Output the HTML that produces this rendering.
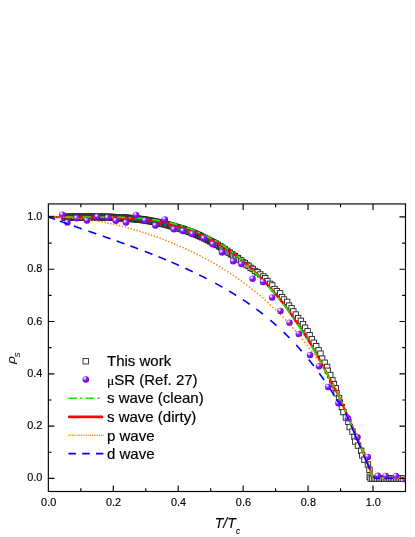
<!DOCTYPE html>
<html><head><meta charset="utf-8"><title>Superfluid density</title>
<style>html,body{margin:0;padding:0;background:#fff}body{width:415px;height:537px;overflow:hidden;font-family:"Liberation Sans",sans-serif}</style></head>
<body>
<svg width="415" height="537" viewBox="0 0 415 537" style="display:block;will-change:transform">
<defs><radialGradient id="g" cx="0.34" cy="0.30" r="0.75"><stop offset="0" stop-color="#fff"/><stop offset="0.16" stop-color="#d9b8ff"/><stop offset="0.42" stop-color="#8a1cff"/><stop offset="1" stop-color="#6a00e0"/></radialGradient>
<clipPath id="c"><rect x="48.35" y="203.95" width="357.15" height="287.55"/></clipPath></defs>
<rect width="415" height="537" fill="#fff"/>
<g fill="#fff" stroke="#222" stroke-width="0.9" clip-path="url(#c)">
<rect x="61.8" y="214.87" width="5.4" height="5.4"/>
<rect x="62.5" y="214.07" width="5.4" height="5.4"/>
<rect x="63.2" y="214.87" width="5.4" height="5.4"/>
<rect x="63.9" y="214.07" width="5.4" height="5.4"/>
<rect x="64.6" y="214.86" width="5.4" height="5.4"/>
<rect x="65.3" y="214.06" width="5.4" height="5.4"/>
<rect x="66" y="214.86" width="5.4" height="5.4"/>
<rect x="66.7" y="214.06" width="5.4" height="5.4"/>
<rect x="67.4" y="214.85" width="5.4" height="5.4"/>
<rect x="68.1" y="214.05" width="5.4" height="5.4"/>
<rect x="68.8" y="214.85" width="5.4" height="5.4"/>
<rect x="69.5" y="214.05" width="5.4" height="5.4"/>
<rect x="70.2" y="214.84" width="5.4" height="5.4"/>
<rect x="70.9" y="214.04" width="5.4" height="5.4"/>
<rect x="71.6" y="214.84" width="5.4" height="5.4"/>
<rect x="72.3" y="214.04" width="5.4" height="5.4"/>
<rect x="73" y="214.83" width="5.4" height="5.4"/>
<rect x="73.7" y="214.03" width="5.4" height="5.4"/>
<rect x="74.4" y="214.83" width="5.4" height="5.4"/>
<rect x="75.1" y="214.03" width="5.4" height="5.4"/>
<rect x="75.8" y="214.82" width="5.4" height="5.4"/>
<rect x="76.5" y="214.02" width="5.4" height="5.4"/>
<rect x="77.2" y="214.82" width="5.4" height="5.4"/>
<rect x="77.9" y="214.02" width="5.4" height="5.4"/>
<rect x="78.6" y="214.82" width="5.4" height="5.4"/>
<rect x="79.3" y="214.01" width="5.4" height="5.4"/>
<rect x="80" y="214.81" width="5.4" height="5.4"/>
<rect x="80.7" y="214.01" width="5.4" height="5.4"/>
<rect x="81.4" y="214.81" width="5.4" height="5.4"/>
<rect x="82.1" y="214.01" width="5.4" height="5.4"/>
<rect x="82.8" y="214.81" width="5.4" height="5.4"/>
<rect x="83.5" y="214.01" width="5.4" height="5.4"/>
<rect x="84.2" y="214.81" width="5.4" height="5.4"/>
<rect x="84.9" y="214.01" width="5.4" height="5.4"/>
<rect x="85.6" y="214.81" width="5.4" height="5.4"/>
<rect x="86.3" y="214.01" width="5.4" height="5.4"/>
<rect x="87" y="214.81" width="5.4" height="5.4"/>
<rect x="87.7" y="214.01" width="5.4" height="5.4"/>
<rect x="88.4" y="214.81" width="5.4" height="5.4"/>
<rect x="89.1" y="214.01" width="5.4" height="5.4"/>
<rect x="89.8" y="214.81" width="5.4" height="5.4"/>
<rect x="90.5" y="214.02" width="5.4" height="5.4"/>
<rect x="91.2" y="214.82" width="5.4" height="5.4"/>
<rect x="91.9" y="214.02" width="5.4" height="5.4"/>
<rect x="92.6" y="214.83" width="5.4" height="5.4"/>
<rect x="93.3" y="214.03" width="5.4" height="5.4"/>
<rect x="94" y="214.83" width="5.4" height="5.4"/>
<rect x="94.7" y="214.04" width="5.4" height="5.4"/>
<rect x="95.4" y="214.84" width="5.4" height="5.4"/>
<rect x="96.1" y="214.05" width="5.4" height="5.4"/>
<rect x="96.8" y="214.86" width="5.4" height="5.4"/>
<rect x="97.5" y="214.06" width="5.4" height="5.4"/>
<rect x="98.2" y="214.87" width="5.4" height="5.4"/>
<rect x="98.9" y="214.08" width="5.4" height="5.4"/>
<rect x="99.6" y="214.89" width="5.4" height="5.4"/>
<rect x="100.3" y="214.1" width="5.4" height="5.4"/>
<rect x="101" y="214.91" width="5.4" height="5.4"/>
<rect x="101.7" y="214.12" width="5.4" height="5.4"/>
<rect x="102.4" y="214.93" width="5.4" height="5.4"/>
<rect x="103.1" y="214.14" width="5.4" height="5.4"/>
<rect x="103.8" y="214.95" width="5.4" height="5.4"/>
<rect x="104.5" y="214.17" width="5.4" height="5.4"/>
<rect x="105.2" y="214.98" width="5.4" height="5.4"/>
<rect x="105.9" y="214.2" width="5.4" height="5.4"/>
<rect x="106.6" y="215.02" width="5.4" height="5.4"/>
<rect x="107.3" y="214.23" width="5.4" height="5.4"/>
<rect x="108" y="215.06" width="5.4" height="5.4"/>
<rect x="108.7" y="214.28" width="5.4" height="5.4"/>
<rect x="109.4" y="215.11" width="5.4" height="5.4"/>
<rect x="110.1" y="214.33" width="5.4" height="5.4"/>
<rect x="110.8" y="215.16" width="5.4" height="5.4"/>
<rect x="111.5" y="214.39" width="5.4" height="5.4"/>
<rect x="112.2" y="215.22" width="5.4" height="5.4"/>
<rect x="112.9" y="214.45" width="5.4" height="5.4"/>
<rect x="113.6" y="215.28" width="5.4" height="5.4"/>
<rect x="114.29" y="214.51" width="5.4" height="5.4"/>
<rect x="114.99" y="215.35" width="5.4" height="5.4"/>
<rect x="115.69" y="214.58" width="5.4" height="5.4"/>
<rect x="116.39" y="215.42" width="5.4" height="5.4"/>
<rect x="117.09" y="214.66" width="5.4" height="5.4"/>
<rect x="117.79" y="215.49" width="5.4" height="5.4"/>
<rect x="118.49" y="214.73" width="5.4" height="5.4"/>
<rect x="119.19" y="215.57" width="5.4" height="5.4"/>
<rect x="119.89" y="214.82" width="5.4" height="5.4"/>
<rect x="120.59" y="215.66" width="5.4" height="5.4"/>
<rect x="121.29" y="214.9" width="5.4" height="5.4"/>
<rect x="121.99" y="215.75" width="5.4" height="5.4"/>
<rect x="122.68" y="214.99" width="5.4" height="5.4"/>
<rect x="123.38" y="215.84" width="5.4" height="5.4"/>
<rect x="124.08" y="215.09" width="5.4" height="5.4"/>
<rect x="124.78" y="215.94" width="5.4" height="5.4"/>
<rect x="125.48" y="215.19" width="5.4" height="5.4"/>
<rect x="126.18" y="216.05" width="5.4" height="5.4"/>
<rect x="126.88" y="215.3" width="5.4" height="5.4"/>
<rect x="127.58" y="216.15" width="5.4" height="5.4"/>
<rect x="128.27" y="215.41" width="5.4" height="5.4"/>
<rect x="128.97" y="216.27" width="5.4" height="5.4"/>
<rect x="129.67" y="215.53" width="5.4" height="5.4"/>
<rect x="130.37" y="216.39" width="5.4" height="5.4"/>
<rect x="131.07" y="215.65" width="5.4" height="5.4"/>
<rect x="131.76" y="216.52" width="5.4" height="5.4"/>
<rect x="132.46" y="215.78" width="5.4" height="5.4"/>
<rect x="133.16" y="216.65" width="5.4" height="5.4"/>
<rect x="133.86" y="215.92" width="5.4" height="5.4"/>
<rect x="134.55" y="216.79" width="5.4" height="5.4"/>
<rect x="135.25" y="216.06" width="5.4" height="5.4"/>
<rect x="135.95" y="216.93" width="5.4" height="5.4"/>
<rect x="136.65" y="216.2" width="5.4" height="5.4"/>
<rect x="137.34" y="217.08" width="5.4" height="5.4"/>
<rect x="138.04" y="216.36" width="5.4" height="5.4"/>
<rect x="138.74" y="217.24" width="5.4" height="5.4"/>
<rect x="139.45" y="216.53" width="5.4" height="5.4"/>
<rect x="140.15" y="217.42" width="5.4" height="5.4"/>
<rect x="140.87" y="216.72" width="5.4" height="5.4"/>
<rect x="141.58" y="217.63" width="5.4" height="5.4"/>
<rect x="142.3" y="216.93" width="5.4" height="5.4"/>
<rect x="143.03" y="217.84" width="5.4" height="5.4"/>
<rect x="143.76" y="217.16" width="5.4" height="5.4"/>
<rect x="144.49" y="218.08" width="5.4" height="5.4"/>
<rect x="145.23" y="217.41" width="5.4" height="5.4"/>
<rect x="145.97" y="218.34" width="5.4" height="5.4"/>
<rect x="146.71" y="217.67" width="5.4" height="5.4"/>
<rect x="147.46" y="218.61" width="5.4" height="5.4"/>
<rect x="148.21" y="217.95" width="5.4" height="5.4"/>
<rect x="148.97" y="218.89" width="5.4" height="5.4"/>
<rect x="149.73" y="218.24" width="5.4" height="5.4"/>
<rect x="150.5" y="219.19" width="5.4" height="5.4"/>
<rect x="151.27" y="218.55" width="5.4" height="5.4"/>
<rect x="152.04" y="219.51" width="5.4" height="5.4"/>
<rect x="152.82" y="218.87" width="5.4" height="5.4"/>
<rect x="153.6" y="219.83" width="5.4" height="5.4"/>
<rect x="154.38" y="219.2" width="5.4" height="5.4"/>
<rect x="155.17" y="220.17" width="5.4" height="5.4"/>
<rect x="155.96" y="219.54" width="5.4" height="5.4"/>
<rect x="156.76" y="220.51" width="5.4" height="5.4"/>
<rect x="157.56" y="219.89" width="5.4" height="5.4"/>
<rect x="158.37" y="220.87" width="5.4" height="5.4"/>
<rect x="159.18" y="220.25" width="5.4" height="5.4"/>
<rect x="159.99" y="221.24" width="5.4" height="5.4"/>
<rect x="160.81" y="220.63" width="5.4" height="5.4"/>
<rect x="161.63" y="221.64" width="5.4" height="5.4"/>
<rect x="162.46" y="221.04" width="5.4" height="5.4"/>
<rect x="163.29" y="222.06" width="5.4" height="5.4"/>
<rect x="164.13" y="221.47" width="5.4" height="5.4"/>
<rect x="164.96" y="222.5" width="5.4" height="5.4"/>
<rect x="165.81" y="221.92" width="5.4" height="5.4"/>
<rect x="166.65" y="222.96" width="5.4" height="5.4"/>
<rect x="167.5" y="222.39" width="5.4" height="5.4"/>
<rect x="168.36" y="223.43" width="5.4" height="5.4"/>
<rect x="169.21" y="222.88" width="5.4" height="5.4"/>
<rect x="170.07" y="223.93" width="5.4" height="5.4"/>
<rect x="170.94" y="223.38" width="5.4" height="5.4"/>
<rect x="171.81" y="224.44" width="5.4" height="5.4"/>
<rect x="172.68" y="223.89" width="5.4" height="5.4"/>
<rect x="173.55" y="224.95" width="5.4" height="5.4"/>
<rect x="174.43" y="224.42" width="5.4" height="5.4"/>
<rect x="175.32" y="225.48" width="5.4" height="5.4"/>
<rect x="176.2" y="224.95" width="5.4" height="5.4"/>
<rect x="177.09" y="226.02" width="5.4" height="5.4"/>
<rect x="177.98" y="225.49" width="5.4" height="5.4"/>
<rect x="178.88" y="226.56" width="5.4" height="5.4"/>
<rect x="179.78" y="226.05" width="5.4" height="5.4"/>
<rect x="180.68" y="227.14" width="5.4" height="5.4"/>
<rect x="181.59" y="226.64" width="5.4" height="5.4"/>
<rect x="182.5" y="227.75" width="5.4" height="5.4"/>
<rect x="183.41" y="227.26" width="5.4" height="5.4"/>
<rect x="184.33" y="228.38" width="5.4" height="5.4"/>
<rect x="185.24" y="227.91" width="5.4" height="5.4"/>
<rect x="186.16" y="229.05" width="5.4" height="5.4"/>
<rect x="187.09" y="228.6" width="5.4" height="5.4"/>
<rect x="188.01" y="229.75" width="5.4" height="5.4"/>
<rect x="188.94" y="229.31" width="5.4" height="5.4"/>
<rect x="189.88" y="230.48" width="5.4" height="5.4"/>
<rect x="190.81" y="230.06" width="5.4" height="5.4"/>
<rect x="191.75" y="231.24" width="5.4" height="5.4"/>
<rect x="192.69" y="230.83" width="5.4" height="5.4"/>
<rect x="193.63" y="232.03" width="5.4" height="5.4"/>
<rect x="194.58" y="231.64" width="5.4" height="5.4"/>
<rect x="195.53" y="232.86" width="5.4" height="5.4"/>
<rect x="196.48" y="232.48" width="5.4" height="5.4"/>
<rect x="197.43" y="233.71" width="5.4" height="5.4"/>
<rect x="198.39" y="233.35" width="5.4" height="5.4"/>
<rect x="199.36" y="234.6" width="5.4" height="5.4"/>
<rect x="200.33" y="234.27" width="5.4" height="5.4"/>
<rect x="201.32" y="235.55" width="5.4" height="5.4"/>
<rect x="202.32" y="235.24" width="5.4" height="5.4"/>
<rect x="203.33" y="236.54" width="5.4" height="5.4"/>
<rect x="204.35" y="236.26" width="5.4" height="5.4"/>
<rect x="205.38" y="237.59" width="5.4" height="5.4"/>
<rect x="206.43" y="237.33" width="5.4" height="5.4"/>
<rect x="207.48" y="238.69" width="5.4" height="5.4"/>
<rect x="208.54" y="238.46" width="5.4" height="5.4"/>
<rect x="209.62" y="239.84" width="5.4" height="5.4"/>
<rect x="210.71" y="239.63" width="5.4" height="5.4"/>
<rect x="211.81" y="241.04" width="5.4" height="5.4"/>
<rect x="212.92" y="240.87" width="5.4" height="5.4"/>
<rect x="214.04" y="242.31" width="5.4" height="5.4"/>
<rect x="215.17" y="242.17" width="5.4" height="5.4"/>
<rect x="216.31" y="243.65" width="5.4" height="5.4"/>
<rect x="217.45" y="243.54" width="5.4" height="5.4"/>
<rect x="218.61" y="245.06" width="5.4" height="5.4"/>
<rect x="219.78" y="245" width="5.4" height="5.4"/>
<rect x="220.96" y="246.57" width="5.4" height="5.4"/>
<rect x="222.15" y="246.56" width="5.4" height="5.4"/>
<rect x="223.34" y="248.17" width="5.4" height="5.4"/>
<rect x="224.55" y="248.2" width="5.4" height="5.4"/>
<rect x="225.76" y="249.84" width="5.4" height="5.4"/>
<rect x="226.98" y="249.89" width="5.4" height="5.4"/>
<rect x="228.21" y="251.54" width="5.4" height="5.4"/>
<rect x="229.49" y="251.6" width="5.4" height="5.4"/>
<rect x="230.83" y="253.29" width="5.4" height="5.4"/>
<rect x="232.23" y="253.41" width="5.4" height="5.4"/>
<rect x="233.7" y="255.18" width="5.4" height="5.4"/>
<rect x="235.23" y="255.4" width="5.4" height="5.4"/>
<rect x="236.84" y="257.3" width="5.4" height="5.4"/>
<rect x="238.51" y="257.71" width="5.4" height="5.4"/>
<rect x="240.25" y="259.7" width="5.4" height="5.4"/>
<rect x="242.06" y="260.31" width="5.4" height="5.4"/>
<rect x="243.95" y="262.32" width="5.4" height="5.4"/>
<rect x="245.91" y="263.17" width="5.4" height="5.4"/>
<rect x="247.95" y="265.21" width="5.4" height="5.4"/>
<rect x="250.07" y="266.27" width="5.4" height="5.4"/>
<rect x="252.27" y="268.26" width="5.4" height="5.4"/>
<rect x="254.55" y="269.54" width="5.4" height="5.4"/>
<rect x="254.81" y="269.66" width="5.4" height="5.4"/>
<rect x="257.65" y="271.77" width="5.4" height="5.4"/>
<rect x="260.7" y="273.78" width="5.4" height="5.4"/>
<rect x="262.53" y="275.52" width="5.4" height="5.4"/>
<rect x="264.65" y="278.39" width="5.4" height="5.4"/>
<rect x="267.54" y="281.18" width="5.4" height="5.4"/>
<rect x="269.58" y="282.79" width="5.4" height="5.4"/>
<rect x="271.86" y="286.35" width="5.4" height="5.4"/>
<rect x="274.15" y="288.43" width="5.4" height="5.4"/>
<rect x="277.39" y="290.6" width="5.4" height="5.4"/>
<rect x="279.37" y="294.47" width="5.4" height="5.4"/>
<rect x="281.29" y="296.8" width="5.4" height="5.4"/>
<rect x="284.46" y="299.19" width="5.4" height="5.4"/>
<rect x="286.34" y="302.89" width="5.4" height="5.4"/>
<rect x="288.86" y="305.58" width="5.4" height="5.4"/>
<rect x="290.63" y="308.69" width="5.4" height="5.4"/>
<rect x="293.14" y="311.84" width="5.4" height="5.4"/>
<rect x="295.44" y="315.5" width="5.4" height="5.4"/>
<rect x="298.22" y="318.16" width="5.4" height="5.4"/>
<rect x="300.27" y="321.48" width="5.4" height="5.4"/>
<rect x="302.41" y="325.02" width="5.4" height="5.4"/>
<rect x="304.93" y="328.57" width="5.4" height="5.4"/>
<rect x="306.95" y="332.59" width="5.4" height="5.4"/>
<rect x="309.14" y="336.51" width="5.4" height="5.4"/>
<rect x="311.08" y="340.08" width="5.4" height="5.4"/>
<rect x="313.55" y="343.55" width="5.4" height="5.4"/>
<rect x="315.95" y="347.59" width="5.4" height="5.4"/>
<rect x="317.79" y="350.97" width="5.4" height="5.4"/>
<rect x="319.45" y="355.9" width="5.4" height="5.4"/>
<rect x="321.96" y="360.04" width="5.4" height="5.4"/>
<rect x="324.4" y="364.25" width="5.4" height="5.4"/>
<rect x="325.15" y="368.09" width="5.4" height="5.4"/>
<rect x="327.56" y="372.36" width="5.4" height="5.4"/>
<rect x="329.71" y="377.63" width="5.4" height="5.4"/>
<rect x="331.21" y="381.54" width="5.4" height="5.4"/>
<rect x="333.03" y="385.45" width="5.4" height="5.4"/>
<rect x="333.83" y="390.63" width="5.4" height="5.4"/>
<rect x="336.36" y="395.32" width="5.4" height="5.4"/>
<rect x="337.04" y="399.75" width="5.4" height="5.4"/>
<rect x="339.18" y="404.42" width="5.4" height="5.4"/>
<rect x="340.75" y="409.38" width="5.4" height="5.4"/>
<rect x="343.19" y="414.79" width="5.4" height="5.4"/>
<rect x="345.66" y="419.1" width="5.4" height="5.4"/>
<rect x="347" y="424.33" width="5.4" height="5.4"/>
<rect x="349.81" y="428.92" width="5.4" height="5.4"/>
<rect x="351.77" y="434.18" width="5.4" height="5.4"/>
<rect x="352.59" y="438.84" width="5.4" height="5.4"/>
<rect x="355.26" y="442.89" width="5.4" height="5.4"/>
<rect x="358.46" y="448.09" width="5.4" height="5.4"/>
<rect x="359.58" y="452.74" width="5.4" height="5.4"/>
<rect x="361.72" y="456.95" width="5.4" height="5.4"/>
<rect x="365.25" y="461.81" width="5.4" height="5.4"/>
<rect x="366.78" y="467.07" width="5.4" height="5.4"/>
<rect x="367" y="474.1" width="5.4" height="5.4"/>
<rect x="367.9" y="475.85" width="5.4" height="5.4"/>
<rect x="369.6" y="475.85" width="5.4" height="5.4"/>
<rect x="371.3" y="475.85" width="5.4" height="5.4"/>
<rect x="373" y="475.85" width="5.4" height="5.4"/>
<rect x="374.7" y="475.85" width="5.4" height="5.4"/>
<rect x="376.4" y="475.85" width="5.4" height="5.4"/>
<rect x="378.1" y="475.85" width="5.4" height="5.4"/>
<rect x="379.8" y="475.85" width="5.4" height="5.4"/>
<rect x="381.5" y="475.85" width="5.4" height="5.4"/>
<rect x="383.2" y="475.85" width="5.4" height="5.4"/>
<rect x="384.9" y="475.85" width="5.4" height="5.4"/>
<rect x="386.6" y="475.85" width="5.4" height="5.4"/>
<rect x="388.3" y="475.85" width="5.4" height="5.4"/>
<rect x="390" y="475.85" width="5.4" height="5.4"/>
<rect x="391.7" y="475.85" width="5.4" height="5.4"/>
<rect x="393.4" y="475.85" width="5.4" height="5.4"/>
<rect x="395.1" y="475.85" width="5.4" height="5.4"/>
<rect x="396.8" y="475.85" width="5.4" height="5.4"/>
<rect x="398.5" y="475.85" width="5.4" height="5.4"/>
<rect x="400.2" y="475.85" width="5.4" height="5.4"/>
</g>
<path d="M48.4 217 L49.2 217 L50.01 217 L50.81 217 L51.62 217 L52.42 217 L53.22 217 L54.03 217.01 L54.83 217.02 L55.63 217.03 L56.44 217.04 L57.24 217.05 L58.05 217.06 L58.85 217.07 L59.65 217.07 L60.46 217.08 L61.26 217.08 L62.07 217.09 L62.87 217.09 L63.67 217.1 L64.48 217.1 L65.28 217.1 L66.09 217.11 L66.89 217.11 L67.69 217.11 L68.5 217.11 L69.3 217.11 L70.1 217.11 L70.91 217.11 L71.71 217.11 L72.52 217.11 L73.32 217.11 L74.12 217.11 L74.93 217.11 L75.73 217.11 L76.54 217.11 L77.34 217.11 L78.14 217.11 L78.95 217.11 L79.75 217.11 L80.56 217.11 L81.36 217.11 L82.16 217.11 L82.97 217.1 L83.77 217.1 L84.57 217.1 L85.38 217.1 L86.18 217.1 L86.99 217.1 L87.79 217.1 L88.59 217.1 L89.4 217.11 L90.2 217.11 L91.01 217.11 L91.81 217.11 L92.61 217.11 L93.42 217.12 L94.22 217.12 L95.03 217.12 L95.83 217.13 L96.63 217.13 L97.44 217.14 L98.24 217.14 L99.04 217.15 L99.85 217.16 L100.65 217.17 L101.46 217.17 L102.26 217.18 L103.06 217.19 L103.87 217.2 L104.67 217.22 L105.48 217.23 L106.28 217.24 L107.08 217.26 L107.89 217.27 L108.69 217.29 L109.5 217.3 L110.3 217.32 L111.1 217.35 L111.91 217.37 L112.71 217.4 L113.51 217.43 L114.32 217.45 L115.12 217.48 L115.93 217.51 L116.73 217.55 L117.53 217.58 L118.34 217.61 L119.14 217.65 L119.95 217.68 L120.75 217.72 L121.55 217.76 L122.36 217.8 L123.16 217.84 L123.97 217.89 L124.77 217.93 L125.57 217.98 L126.38 218.03 L127.18 218.07 L127.98 218.12 L128.79 218.18 L129.59 218.23 L130.4 218.29 L131.2 218.34 L132 218.4 L132.81 218.46 L133.61 218.52 L134.42 218.59 L135.22 218.65 L136.02 218.72 L136.83 218.79 L137.63 218.86 L138.44 218.93 L139.24 219 L140.04 219.08 L140.85 219.16 L141.65 219.24 L142.45 219.32 L143.26 219.4 L144.06 219.49 L144.87 219.58 L145.67 219.67 L146.47 219.76 L147.28 219.86 L148.08 219.95 L148.89 220.05 L149.69 220.16 L150.49 220.26 L151.3 220.37 L152.1 220.48 L152.91 220.6 L153.71 220.71 L154.51 220.83 L155.32 220.95 L156.12 221.08 L156.92 221.21 L157.73 221.34 L158.53 221.48 L159.34 221.62 L160.14 221.76 L160.94 221.9 L161.75 222.04 L162.55 222.19 L163.36 222.34 L164.16 222.49 L164.96 222.65 L165.77 222.81 L166.57 222.98 L167.37 223.15 L168.18 223.32 L168.98 223.5 L169.79 223.68 L170.59 223.87 L171.39 224.06 L172.2 224.25 L173 224.45 L173.81 224.66 L174.61 224.86 L175.41 225.08 L176.22 225.29 L177.02 225.52 L177.83 225.74 L178.63 225.97 L179.43 226.21 L180.24 226.45 L181.04 226.7 L181.84 226.95 L182.65 227.2 L183.45 227.46 L184.26 227.73 L185.06 228 L185.86 228.28 L186.67 228.56 L187.47 228.84 L188.28 229.13 L189.08 229.43 L189.88 229.73 L190.69 230.04 L191.49 230.35 L192.3 230.67 L193.1 230.99 L193.9 231.32 L194.71 231.65 L195.51 231.98 L196.31 232.32 L197.12 232.67 L197.92 233.02 L198.73 233.38 L199.53 233.74 L200.33 234.1 L201.14 234.47 L201.94 234.85 L202.75 235.23 L203.55 235.61 L204.35 236 L205.16 236.4 L205.96 236.79 L206.77 237.2 L207.57 237.6 L208.37 238.02 L209.18 238.43 L209.98 238.85 L210.78 239.28 L211.59 239.71 L212.39 240.13 L213.2 240.57 L214 241.01 L214.8 241.45 L215.61 241.9 L216.41 242.35 L217.22 242.81 L218.02 243.28 L218.82 243.75 L219.63 244.22 L220.43 244.71 L221.24 245.19 L222.04 245.69 L222.84 246.19 L223.65 246.69 L224.45 247.2 L225.25 247.72 L226.06 248.24 L226.86 248.78 L227.67 249.31 L228.47 249.86 L229.27 250.41 L230.08 250.96 L230.88 251.53 L231.69 252.1 L232.49 252.67 L233.29 253.26 L234.1 253.85 L234.9 254.45 L235.71 255.06 L236.51 255.67 L237.31 256.29 L238.12 256.92 L238.92 257.56 L239.72 258.2 L240.53 258.86 L241.33 259.52 L242.14 260.2 L242.94 260.88 L243.74 261.57 L244.55 262.27 L245.35 262.97 L246.16 263.68 L246.96 264.4 L247.76 265.12 L248.57 265.86 L249.37 266.59 L250.18 267.34 L250.98 268.09 L251.78 268.85 L252.59 269.62 L253.39 270.39 L254.19 271.17 L255 271.95 L255.8 272.74 L256.61 273.54 L257.41 274.35 L258.21 275.16 L259.02 275.97 L259.82 276.8 L260.63 277.63 L261.43 278.46 L262.23 279.3 L263.04 280.15 L263.84 281 L264.64 281.86 L265.45 282.73 L266.25 283.6 L267.06 284.47 L267.86 285.35 L268.66 286.24 L269.47 287.13 L270.27 288.03 L271.08 288.94 L271.88 289.85 L272.68 290.76 L273.49 291.69 L274.29 292.61 L275.1 293.55 L275.9 294.49 L276.7 295.44 L277.51 296.39 L278.31 297.36 L279.11 298.33 L279.92 299.3 L280.72 300.29 L281.53 301.28 L282.33 302.27 L283.13 303.28 L283.94 304.29 L284.74 305.31 L285.55 306.4 L286.35 307.51 L287.15 308.64 L287.96 309.77 L288.76 310.91 L289.57 312.06 L290.37 313.22 L291.17 314.39 L291.98 315.56 L292.78 316.75 L293.58 317.94 L294.39 319.14 L295.19 320.34 L296 321.48 L296.8 322.64 L297.6 323.8 L298.41 324.98 L299.21 326.16 L300.02 327.36 L300.82 328.56 L301.62 329.77 L302.43 331 L303.23 332.23 L304.04 333.47 L304.84 334.73 L305.64 335.99 L306.45 337.27 L307.25 338.56 L308.05 339.85 L308.86 341.16 L309.66 342.48 L310.47 343.81 L311.27 345.15 L312.07 346.5 L312.88 347.86 L313.68 349.23 L314.49 350.62 L315.29 352.01 L316.09 353.42 L316.9 354.84 L317.7 356.26 L318.51 357.7 L319.31 359.15 L320.11 360.62 L320.92 362.09 L321.72 363.57 L322.52 365.07 L323.33 366.58 L324.13 368.09 L324.94 369.62 L325.74 371.07 L326.54 372.52 L327.35 373.99 L328.15 375.46 L328.96 376.95 L329.76 378.44 L330.56 379.95 L331.37 381.47 L332.17 383 L332.98 384.55 L333.78 386.1 L334.58 387.67 L335.39 389.29 L336.19 390.97 L336.99 392.66 L337.8 394.37 L338.6 396.08 L339.41 397.8 L340.21 399.53 L341.01 401.28 L341.82 403.03 L342.62 404.79 L343.43 406.56 L344.23 408.34 L345.03 410.13 L345.84 411.92 L346.64 413.73 L347.45 415.54 L348.25 417.36 L349.05 419.19 L349.86 421.02 L350.66 422.87 L351.46 424.72 L352.27 426.58 L353.07 428.44 L353.88 430.32 L354.68 432.2 L355.48 434.08 L356.29 435.97 L357.09 437.87 L357.9 439.78 L358.7 441.69 L359.5 443.6 L360.31 445.52 L361.11 447.45 L361.92 449.38 L362.72 451.32 L363.52 453.26 L364.33 455.2 L365.13 457.15 L365.93 459.1 L366.74 461.06 L367.54 463.02 L368.35 464.99 L369.15 466.95 L370.85 472 L372.3 475.2 L373.5 477 L375 477.95 L377 478.2 L405.5 478.2" fill="none" stroke="#ff0000" stroke-width="2.3" stroke-linejoin="round"/>
<path d="M48.4 217 L49.2 217 L50.01 217 L50.81 217 L51.62 217 L52.42 217 L53.22 217 L54.03 217.01 L54.83 217.02 L55.63 217.03 L55.8 217.03 M59.1 217.07 L59.65 217.07 L60.46 217.08 L61.26 217.08 L61.3 217.08 M65.2 217.1 L65.28 217.1 L66.09 217.11 L66.89 217.11 L67.69 217.11 L68.5 217.11 L69.3 217.11 L70.1 217.11 L70.91 217.11 L71.71 217.11 L72.52 217.11 L73.2 217.11 M76.5 217.11 L76.54 217.11 L77.34 217.11 L78.14 217.11 L78.7 217.11 M82.6 217.1 L82.97 217.1 L83.77 217.1 L84.57 217.1 L85.38 217.1 L86.18 217.1 L86.99 217.1 L87.79 217.1 L88.59 217.1 L89.4 217.11 L90.2 217.11 L90.6 217.11 M93.9 217.12 L94.22 217.12 L95.03 217.12 L95.83 217.13 L96.1 217.13 M100 217.16 L100.65 217.17 L101.46 217.17 L102.26 217.18 L103.06 217.18 L103.87 217.19 L104.67 217.19 L105.48 217.2 L106.28 217.2 L107.08 217.2 L107.89 217.2 L108 217.21 M111.3 217.23 L111.91 217.24 L112.71 217.25 L113.5 217.26 M117.4 217.33 L117.53 217.33 L118.34 217.35 L119.14 217.37 L119.95 217.39 L120.75 217.41 L121.55 217.43 L122.36 217.44 L123.16 217.46 L123.97 217.48 L124.77 217.5 L125.4 217.51 M128.7 217.59 L128.79 217.59 L129.59 217.62 L130.4 217.64 L130.9 217.66 M134.8 217.82 L135.22 217.84 L136.02 217.89 L136.83 217.94 L137.63 217.99 L138.44 218.05 L139.24 218.11 L140.04 218.18 L140.85 218.25 L141.65 218.32 L142.45 218.4 L142.79 218.43 M146.09 218.77 L146.47 218.81 L147.28 218.9 L148.08 218.99 L148.28 219.02 M152.18 219.51 L152.91 219.61 L153.71 219.72 L154.51 219.84 L155.32 219.96 L156.12 220.08 L156.92 220.21 L157.73 220.34 L158.53 220.48 L159.34 220.62 L160.14 220.76 L160.15 220.76 M163.44 221.35 L164.16 221.49 L164.96 221.65 L165.63 221.78 M169.51 222.62 L169.79 222.68 L170.59 222.87 L171.39 223.06 L172.2 223.25 L173 223.45 L173.81 223.66 L174.61 223.86 L175.41 224.08 L176.22 224.29 L177.02 224.52 L177.44 224.63 M180.71 225.6 L181.04 225.7 L181.84 225.95 L182.65 226.2 L182.88 226.28 M186.72 227.58 L187.47 227.84 L188.28 228.13 L189.08 228.43 L189.88 228.73 L190.69 229.04 L191.49 229.35 L192.3 229.67 L193.1 229.99 L193.9 230.32 L194.58 230.6 M197.81 231.97 L197.92 232.02 L198.73 232.38 L199.53 232.74 L199.96 232.93 M203.75 234.71 L204.35 235.01 L205.16 235.4 L205.96 235.8 L206.77 236.21 L207.57 236.62 L208.37 237.03 L209.18 237.45 L209.98 237.88 L210.78 238.31 L211.5 238.69 M214.68 240.43 L214.8 240.5 L215.61 240.95 L216.41 241.42 L216.8 241.64 M220.53 243.91 L221.24 244.36 L222.04 244.88 L222.84 245.41 L223.65 245.94 L224.45 246.48 L225.25 247.03 L226.06 247.59 L226.86 248.15 L227.67 248.72 L228.11 249.04 M231.21 251.31 L231.69 251.67 L232.49 252.28 L233.26 252.87 M236.89 255.74 L237.31 256.08 L238.12 256.75 L238.92 257.42 L239.72 258.1 L240.53 258.8 L241.33 259.51 L242.14 260.22 L242.94 260.94 L243.74 261.67 L244.23 262.11 M247.22 264.9 L247.76 265.41 L248.57 266.18 L249.21 266.79 M252.71 270.2 L253.39 270.86 L254.19 271.66 L255 272.45 L255.8 273.25 L256.61 274.06 L257.41 274.87 L258.21 275.69 L259.02 276.52 L259.82 277.35 L259.86 277.39 M262.78 280.45 L263.04 280.72 L263.84 281.58 L264.64 282.45 L264.72 282.53 M268.15 286.27 L268.66 286.84 L269.47 287.73 L270.27 288.63 L271.08 289.53 L271.88 290.44 L272.68 291.36 L273.49 292.28 L274.29 293.2 L275.1 294.13 L275.11 294.15 M277.95 297.49 L278.31 297.92 L279.11 298.88 L279.84 299.76 M283.16 303.84 L283.94 304.81 L284.74 305.83 L285.55 306.91 L286.35 308.02 L287.15 309.14 L287.96 310.28 L288.76 311.41 L289.57 312.56 L289.77 312.86 M292.44 316.74 L292.78 317.25 L293.58 318.44 L294.2 319.36 M297.36 323.95 L297.6 324.3 L298.41 325.48 L299.21 326.66 L300.02 327.86 L300.82 329.06 L301.62 330.27 L302.43 331.5 L303.23 332.73 L303.76 333.54 M306.35 337.62 L306.45 337.77 L307.25 339.06 L308.05 340.36 L308.07 340.38 M311.08 345.34 L311.27 345.66 L312.07 347.01 L312.88 348.37 L313.68 349.75 L314.49 351.14 L315.29 352.53 L316.09 353.94 L316.9 355.36 L317.14 355.79 M319.59 360.2 L320.11 361.16 L320.92 362.63 L321.21 363.17 M324.06 368.51 L324.13 368.65 L324.94 370.18 L325.74 371.64 L326.54 373.09 L327.35 374.56 L328.15 376.03 L328.96 377.52 L329.76 379.02 L329.94 379.35 M332.33 383.9 L332.98 385.14 L333.78 386.69 L333.91 386.95 M336.64 392.52 L336.99 393.26 L337.8 394.97 L338.6 396.68 L339.41 398.4 L340.21 400.13 L341.01 401.88 L341.82 403.63 L342.09 404.23 M344.32 409.11 L345.03 410.7 L345.79 412.38 M348.38 418.21 L349.05 419.72 L349.86 421.55 L350.66 423.38 L351.46 425.22 L352.27 427.07 L353.07 428.92 L353.65 430.25 M355.8 435.25 L356.29 436.38 L357.09 438.27 L357.23 438.6 M359.76 444.54 L360.31 445.84 L361.11 447.75 L361.92 449.66 L362.72 451.57 L363.52 453.49 L364.33 455.42 L364.9 456.79 M367.01 461.87 L367.54 463.15 L368.35 465.09 L368.41 465.26 M370.69 471.58 L370.85 472.03 L372.3 475.2 L373.5 477 L375 477.95 L377 478.2 L377.5 478.2 M380.8 478.2 L383 478.2 M386.9 478.2 L394.9 478.2 M398.2 478.2 L400.4 478.2 M404.3 478.2 L405.5 478.2" fill="none" stroke="#00f000" stroke-width="1.7" stroke-linejoin="round"/>
<g fill="url(#g)" clip-path="url(#c)">
<circle cx="62.3" cy="214.7" r="3.25"/>
<circle cx="67.4" cy="222.6" r="3.25"/>
<circle cx="76.6" cy="218.2" r="3.25"/>
<circle cx="86.9" cy="220.4" r="3.25"/>
<circle cx="97.3" cy="216.8" r="3.25"/>
<circle cx="107.6" cy="217.7" r="3.25"/>
<circle cx="115.8" cy="220.7" r="3.25"/>
<circle cx="126" cy="222.6" r="3.25"/>
<circle cx="136" cy="214.9" r="3.25"/>
<circle cx="145" cy="220.45" r="3.25"/>
<circle cx="155.4" cy="225.5" r="3.25"/>
<circle cx="164.8" cy="219.4" r="3.25"/>
<circle cx="173.8" cy="229.3" r="3.25"/>
<circle cx="183" cy="231.05" r="3.25"/>
<circle cx="192.3" cy="233.95" r="3.25"/>
<circle cx="203.7" cy="238.3" r="3.25"/>
<circle cx="212.8" cy="244.2" r="3.25"/>
<circle cx="222" cy="252.4" r="3.25"/>
<circle cx="233.2" cy="261.3" r="3.25"/>
<circle cx="241.4" cy="264.1" r="3.25"/>
<circle cx="252.6" cy="278.8" r="3.25"/>
<circle cx="263" cy="281.9" r="3.25"/>
<circle cx="272.1" cy="297.5" r="3.25"/>
<circle cx="280.4" cy="311" r="3.25"/>
<circle cx="289.5" cy="322.7" r="3.25"/>
<circle cx="298.8" cy="334" r="3.25"/>
<circle cx="310" cy="355" r="3.25"/>
<circle cx="319" cy="366.3" r="3.25"/>
<circle cx="328.1" cy="387" r="3.25"/>
<circle cx="338.4" cy="403.3" r="3.25"/>
<circle cx="347.9" cy="418.2" r="3.25"/>
<circle cx="357.5" cy="437.3" r="3.25"/>
<circle cx="367.8" cy="456.9" r="3.25"/>
<circle cx="377.7" cy="475.8" r="3.25"/>
<circle cx="385.7" cy="476" r="3.25"/>
<circle cx="395.9" cy="476" r="3.25"/>
<circle cx="405.8" cy="479.4" r="3.25"/>
</g>
<path d="M51.27 217 L52.67 217 M54.22 217 L55.62 217 M57.17 217 L58.57 217.02 M60.12 217.07 L61.51 217.13 M63.07 217.2 L64.46 217.27 M66.01 217.36 L67.41 217.45 M68.96 217.56 L70.36 217.66 M71.91 217.78 L73.3 217.9 M74.85 218.04 L76.25 218.18 M77.8 218.33 L79.19 218.48 M80.74 218.65 L82.13 218.82 M83.69 219.01 L85.08 219.18 M86.63 219.39 L88.01 219.58 M89.57 219.8 L90.95 220.01 M92.51 220.25 L93.89 220.47 M95.44 220.72 L96.82 220.95 M98.38 221.22 L99.76 221.47 M101.31 221.75 L102.69 222.01 M104.24 222.32 L105.61 222.59 M107.17 222.9 L108.54 223.19 M110.1 223.52 L111.46 223.82 M113.02 224.17 L114.39 224.48 M115.94 224.84 L117.31 225.17 M118.86 225.54 L120.22 225.88 M121.78 226.27 L123.14 226.62 M124.7 227.03 L126.05 227.39 M127.61 227.81 L128.96 228.18 M130.52 228.61 L131.86 229 M133.42 229.45 L134.77 229.84 M136.33 230.31 L137.67 230.71 M139.23 231.19 L140.57 231.61 M142.13 232.1 L143.46 232.53 M145.02 233.03 L146.35 233.47 M147.92 233.99 L149.24 234.44 M150.81 234.97 L152.13 235.43 M153.69 235.98 L155.01 236.45 M156.58 237.01 L157.89 237.49 M159.46 238.06 L160.77 238.55 M162.33 239.14 L163.64 239.63 M165.21 240.23 L166.51 240.74 M168.08 241.36 L169.38 241.87 M170.95 242.5 L172.24 243.03 M173.81 243.67 L175.1 244.21 M176.67 244.87 L177.96 245.42 M179.52 246.09 L180.81 246.65 M182.38 247.34 L183.65 247.91 M185.22 248.62 L186.5 249.2 M188.06 249.93 L189.33 250.52 M190.9 251.26 L192.17 251.86 M193.73 252.62 L194.99 253.24 M196.56 254.01 L197.81 254.64 M199.38 255.44 L200.63 256.08 M202.2 256.89 L203.44 257.54 M205.01 258.37 L206.24 259.04 M207.81 259.89 L209.04 260.57 M210.61 261.44 L211.83 262.12 M213.4 263.02 L214.61 263.72 M216.18 264.63 L217.39 265.34 M218.96 266.28 L220.16 267 M221.73 267.96 L222.92 268.69 M224.49 269.67 L225.67 270.42 M227.24 271.42 L228.42 272.18 M229.99 273.2 L231.15 273.97 M232.72 275.01 L233.88 275.8 M235.45 276.86 L236.6 277.66 M238.17 278.75 L239.31 279.56 M240.88 280.67 L242.01 281.49 M243.58 282.63 L244.71 283.46 M246.27 284.63 L247.39 285.47 M248.95 286.66 L250.06 287.52 M251.62 288.74 L252.71 289.61 M254.27 290.85 L255.36 291.73 M256.92 293.01 L257.99 293.9 M259.55 295.2 L260.61 296.11 M262.17 297.44 L263.22 298.36 M264.77 299.72 L265.82 300.65 M267.36 302.04 L268.4 302.98 M269.94 304.4 L270.97 305.35 M272.51 306.8 L273.52 307.76 M275.06 309.24 L276.06 310.22 M277.59 311.72 L278.58 312.71 M280.11 314.25 L281.09 315.25 M282.61 316.82 L283.58 317.83 M285.1 319.43 L286.06 320.45 M287.57 322.08 L288.52 323.11 M290.03 324.77 L290.96 325.81 M292.46 327.5 L293.39 328.55 M294.88 330.27 L295.8 331.33 M297.29 333.08 L298.19 334.15 M299.68 335.93 L300.57 337.01 M302.05 338.82 L302.93 339.91 M304.4 341.75 L305.27 342.84 M306.73 344.71 L307.59 345.82 M309.05 347.71 L309.89 348.83 M311.34 350.75 L312.18 351.88 M313.62 353.83 L314.45 354.96 M315.89 356.94 L316.7 358.08 M318.15 359.99 L319.06 361.06 M320.54 362.86 L321.38 363.98 M322.78 366.06 L323.52 367.24 M324.85 369.53 L325.55 370.74 M327.03 372.73 L327.74 373.93 M329.08 376.21 L329.79 377.42 M331.11 379.72 L331.81 380.93 M333.12 383.29 L333.77 384.53 M335.03 386.98 L335.66 388.23 M336.89 390.75 L337.49 392.02 M338.7 394.57 L339.29 395.84 M340.49 398.41 L341.08 399.68 M342.27 402.27 L342.85 403.54 M344.04 406.15 L344.62 407.42 M345.79 410.03 L346.36 411.31 M347.54 413.94 L348.1 415.22 M349.27 417.86 L349.83 419.14 M350.99 421.78 L351.55 423.07 M352.7 425.73 L353.25 427.01 M354.4 429.68 L354.95 430.96 M356.09 433.64 L356.64 434.93 M357.78 437.61 L358.32 438.9 M359.46 441.59 L360 442.88 M361.13 445.57 L361.67 446.87 M362.79 449.58 L363.3 450.89 M364.36 453.68 L364.86 454.99 M365.92 457.78 L366.42 459.09 M367.47 461.89 L367.97 463.2 M369.02 466.01 L369.49 467.33 M370.41 470.29 L370.83 471.63 M371.95 474.37 L372.58 475.62 M374.02 477.33 L375.23 477.98 M376.82 478.18 L378.22 478.2 M379.77 478.2 L381.17 478.2 M382.72 478.2 L384.12 478.2 M385.67 478.2 L387.07 478.2 M388.62 478.2 L390.02 478.2 M391.57 478.2 L392.97 478.2 M394.52 478.2 L395.92 478.2 M397.47 478.2 L398.87 478.2 M400.42 478.2 L401.82 478.2 M403.37 478.2 L404.77 478.2" fill="none" stroke="#ff8000" stroke-width="1.5"/>
<path d="M48.4 216.86 L48.86 217.03 L49.32 217.2 L49.78 217.37 L50.24 217.54 L50.69 217.71 L51.15 217.88 L51.61 218.05 L52.07 218.22 L52.53 218.39 L52.99 218.55 L53.45 218.72 L53.91 218.89 L54.37 219.06 L54.82 219.23 L55.1 219.33 M59.8 221.03 L59.87 221.06 L60.33 221.22 L60.79 221.39 L61.25 221.55 L61.71 221.72 L62.17 221.88 L62.62 222.05 L63.08 222.21 L63.54 222.38 L64 222.54 L64.46 222.71 L64.92 222.87 L65.38 223.03 L65.84 223.2 L66.3 223.36 L66.75 223.52 L67.21 223.69 L67.61 223.83 M73.9 226.05 L74.1 226.12 L74.56 226.28 L75.01 226.44 L75.47 226.6 L75.93 226.76 L76.39 226.93 L76.85 227.09 L77.31 227.25 L77.77 227.41 L78.23 227.57 L78.69 227.73 L79.14 227.89 L79.6 228.05 L80.06 228.21 L80.52 228.37 L80.98 228.53 L81.44 228.69 L81.73 228.79 M88.4 231.12 L88.78 231.25 L89.24 231.41 L89.7 231.57 L90.16 231.73 L90.62 231.89 L91.07 232.05 L91.53 232.21 L91.99 232.37 L92.45 232.52 L92.91 232.68 L93.37 232.84 L93.83 233 L94.29 233.16 L94.75 233.32 L95.2 233.48 L95.66 233.64 L96.12 233.8 L96.24 233.84 M102.8 236.13 L103.01 236.2 L103.46 236.36 L103.92 236.52 L104.38 236.68 L104.84 236.84 L105.3 237 L105.76 237.16 L106.22 237.32 L106.68 237.48 L107.14 237.64 L107.59 237.8 L108.05 237.97 L108.51 238.13 L108.97 238.29 L109.43 238.45 L109.89 238.61 L110.35 238.77 L110.63 238.87 M116.7 241.02 L116.77 241.04 L117.23 241.21 L117.69 241.37 L118.15 241.53 L118.61 241.7 L119.07 241.86 L119.52 242.03 L119.98 242.19 L120.44 242.35 L120.9 242.52 L121.36 242.68 L121.82 242.85 L122.28 243.01 L122.74 243.18 L123.2 243.34 L123.65 243.51 L124.11 243.67 L124.51 243.82 M130.3 245.92 L130.54 246.01 L131 246.18 L131.46 246.35 L131.91 246.52 L132.37 246.68 L132.83 246.85 L133.29 247.02 L133.75 247.19 L134.21 247.36 L134.67 247.53 L135.13 247.7 L135.59 247.87 L136.04 248.04 L136.5 248.22 L136.96 248.39 L137.42 248.56 L137.88 248.73 L138.08 248.81 M144.8 251.35 L145.22 251.51 L145.68 251.69 L146.14 251.87 L146.6 252.04 L147.06 252.22 L147.52 252.4 L147.97 252.58 L148.43 252.76 L148.89 252.93 L149.35 253.11 L149.81 253.29 L150.27 253.47 L150.73 253.65 L151.19 253.83 L151.65 254.01 L152.1 254.19 L152.54 254.36 M158.3 256.66 L158.53 256.76 L158.99 256.94 L159.45 257.13 L159.91 257.31 L160.36 257.5 L160.82 257.69 L161.28 257.88 L161.74 258.06 L162.2 258.25 L162.66 258.44 L163.12 258.63 L163.58 258.82 L164.04 259.01 L164.49 259.2 L164.95 259.39 L165.41 259.58 L165.87 259.77 L165.98 259.82 M171.4 262.11 L171.84 262.3 L172.29 262.5 L172.75 262.69 L173.21 262.89 L173.67 263.09 L174.13 263.29 L174.59 263.49 L175.05 263.69 L175.51 263.89 L175.97 264.09 L176.42 264.29 L176.88 264.49 L177.34 264.7 L177.8 264.9 L178.26 265.1 L178.72 265.31 L179.01 265.43 M185.3 268.28 L185.6 268.42 L186.06 268.63 L186.52 268.84 L186.98 269.05 L187.44 269.27 L187.9 269.48 L188.36 269.69 L188.81 269.91 L189.27 270.12 L189.73 270.34 L190.19 270.55 L190.65 270.77 L191.11 270.99 L191.57 271.21 L192.03 271.42 L192.49 271.64 L192.82 271.8 M199.2 274.91 L199.37 274.99 L199.83 275.22 L200.29 275.45 L200.74 275.67 L201.2 275.9 L201.66 276.13 L202.12 276.37 L202.58 276.6 L203.04 276.83 L203.5 277.06 L203.96 277.29 L204.42 277.53 L204.87 277.76 L205.33 278 L205.79 278.23 L206.25 278.47 L206.61 278.65 M215.2 283.2 L215.43 283.32 L215.89 283.57 L216.35 283.82 L216.81 284.07 L217.26 284.33 L217.72 284.58 L218.18 284.83 L218.64 285.08 L219.1 285.34 L219.56 285.59 L220.02 285.85 L220.48 286.11 L220.94 286.36 L221.39 286.62 L221.85 286.88 L222.31 287.14 L222.46 287.22 M229.1 291.07 L229.19 291.12 L229.65 291.4 L230.11 291.67 L230.57 291.94 L231.03 292.22 L231.49 292.5 L231.95 292.77 L232.41 293.05 L232.87 293.33 L233.32 293.61 L233.78 293.89 L234.24 294.17 L234.7 294.46 L235.16 294.74 L235.62 295.02 L236.08 295.31 L236.19 295.38 M242.95 299.72 L242.96 299.73 L243.42 300.03 L243.88 300.33 L244.34 300.64 L244.8 300.95 L245.26 301.26 L245.71 301.57 L246.17 301.88 L246.63 302.19 L247.09 302.5 L247.55 302.81 L248.01 303.13 L248.47 303.45 L248.93 303.77 L249.38 304.08 L249.81 304.38 M256.4 309.13 L256.73 309.37 L257.19 309.72 L257.64 310.06 L258.1 310.41 L258.56 310.75 L259.02 311.1 L259.48 311.45 L259.94 311.8 L260.4 312.16 L260.86 312.51 L261.32 312.87 L261.77 313.22 L262.23 313.58 L262.69 313.94 L262.99 314.18 M270.3 320.15 L270.49 320.31 L270.95 320.7 L271.41 321.09 L271.87 321.49 L272.33 321.88 L272.79 322.28 L273.25 322.68 L273.71 323.08 L274.16 323.48 L274.62 323.88 L275.08 324.29 L275.54 324.69 L276 325.1 L276.46 325.51 L276.56 325.6 M283.55 332.1 L283.8 332.34 L284.26 332.79 L284.72 333.23 L285.18 333.68 L285.64 334.13 L286.09 334.58 L286.55 335.03 L287.01 335.49 L287.47 335.94 L287.93 336.4 L288.39 336.86 L288.85 337.33 L289.31 337.79 L289.45 337.94 M296.2 345.04 L296.65 345.53 L297.11 346.04 L297.57 346.54 L298.03 347.05 L298.48 347.56 L298.94 348.07 L299.4 348.58 L299.86 349.1 L300.32 349.62 L300.78 350.14 L301.24 350.67 L301.7 351.19 L301.73 351.23 M308.7 359.53 L309.04 359.95 L309.5 360.52 L309.96 361.09 L310.41 361.66 L310.87 362.24 L311.33 362.82 L311.79 363.4 L312.25 363.99 L312.71 364.58 L313.17 365.17 L313.63 365.76 L313.85 366.04 M319.3 373.32 L319.59 373.72 L320.05 374.35 L320.51 374.99 L320.97 375.63 L321.43 376.27 L321.89 376.91 L322.35 377.56 L322.8 378.21 L323.26 378.86 L323.72 379.52 L324.12 380.08 M329.7 388.33 L330.15 389.01 L330.6 389.71 L331.06 390.42 L331.52 391.13 L331.98 391.84 L332.44 392.55 L332.9 393.27 L333.36 393.99 L333.82 394.71 L334.19 395.31 M336.7 399.45 L336.94 399.87 L337.36 400.62 L337.78 401.38 L338.2 401.81 L338.61 402.22 L339.03 402.66 L339.45 403.13 L339.87 403.63 L340.29 404.16 L340.71 404.71 L341.13 405.3 L341.54 405.91 L341.65 406.06 M345.5 412.74 L345.51 412.75 L345.97 413.78 L346.42 414.81 L346.88 415.85 L347.34 416.89 L347.8 417.93 L348.26 418.98 L348.33 419.14 M351 425.26 L351.01 425.29 L351.47 426.35 L351.93 427.42 L352.39 428.48 L352.85 429.55 L353.31 430.62 L353.77 431.7 L354.23 432.77 L354.68 433.85 L355.14 434.93 L355.6 436.01 L356.06 437.09 L356.52 438.17 L356.98 439.26 L357.44 440.35 L357.9 441.44 L358.35 442.53 L358.81 443.63 L359.27 444.72 L359.73 445.82 L360.19 446.92 L360.65 448.02 L360.7 448.14 M363.5 454.86 L363.91 455.77 L364.41 456.88 L364.91 458 L365.41 459.11 L365.91 460.23 L366.41 461.35 L366.9 462.47 L367.4 463.59 L367.9 464.71 L368.4 465.83 L368.9 466.95 L369.6 468.86 M373.4 476.85 L373.5 477 L375 477.95 L377 478.2 L380.3 478.2 M385 478.2 L393.1 478.2" fill="none" stroke="#0000ff" stroke-width="1.6" stroke-linejoin="round"/>
<rect x="48.35" y="203.95" width="357.15" height="287.55" fill="none" stroke="#000" stroke-width="1.15"/>
<path d="M80.81 491.5 v-3.3 M80.81 203.95 v3.3 M113.28 491.5 v-6 M113.28 203.95 v6 M145.75 491.5 v-3.3 M145.75 203.95 v3.3 M178.21 491.5 v-6 M178.21 203.95 v6 M210.67 491.5 v-3.3 M210.67 203.95 v3.3 M243.14 491.5 v-6 M243.14 203.95 v6 M275.6 491.5 v-3.3 M275.6 203.95 v3.3 M308.07 491.5 v-6 M308.07 203.95 v6 M340.54 491.5 v-3.3 M340.54 203.95 v3.3 M373 491.5 v-6 M373 203.95 v6 M48.35 478.4 h6 M405.5 478.4 h-6 M48.35 452.25 h3.3 M405.5 452.25 h-3.3 M48.35 426.1 h6 M405.5 426.1 h-6 M48.35 399.95 h3.3 M405.5 399.95 h-3.3 M48.35 373.8 h6 M405.5 373.8 h-6 M48.35 347.65 h3.3 M405.5 347.65 h-3.3 M48.35 321.5 h6 M405.5 321.5 h-6 M48.35 295.35 h3.3 M405.5 295.35 h-3.3 M48.35 269.2 h6 M405.5 269.2 h-6 M48.35 243.05 h3.3 M405.5 243.05 h-3.3 M48.35 216.9 h6 M405.5 216.9 h-6" stroke="#000" stroke-width="1.15" fill="none"/>
<g font-family="Liberation Sans, sans-serif" font-size="10.9" fill="#000" stroke="#000" stroke-width="0.15">
<text x="48.65" y="506.3" text-anchor="middle">0.0</text>
<text x="113.58" y="506.3" text-anchor="middle">0.2</text>
<text x="178.51" y="506.3" text-anchor="middle">0.4</text>
<text x="243.44" y="506.3" text-anchor="middle">0.6</text>
<text x="308.37" y="506.3" text-anchor="middle">0.8</text>
<text x="373.3" y="506.3" text-anchor="middle">1.0</text>
<text x="42.3" y="481.4" text-anchor="end">0.0</text>
<text x="42.3" y="429.1" text-anchor="end">0.2</text>
<text x="42.3" y="376.8" text-anchor="end">0.4</text>
<text x="42.3" y="324.5" text-anchor="end">0.6</text>
<text x="42.3" y="272.2" text-anchor="end">0.8</text>
<text x="42.3" y="219.9" text-anchor="end">1.0</text>
</g>
<text x="214.8" y="528" font-family="Liberation Sans, sans-serif" font-style="italic" font-size="14" fill="#000" stroke="#000" stroke-width="0.12">T/T<tspan font-size="8.2" dy="5.9" dx="0.1">c</tspan></text>
<text transform="translate(14.5,364.0) rotate(-90) scale(1.12,0.9)" font-family="Liberation Sans, sans-serif" font-style="italic" font-size="12.4" fill="#000">ρ</text>
<text transform="translate(19.9,357.3) rotate(-90) scale(1.15,1)" font-family="Liberation Sans, sans-serif" font-style="italic" font-size="8.6" fill="#000">s</text>
<rect x="83.0" y="358.45" width="5.5" height="5.5" fill="#fff" stroke="#2a2a2a" stroke-width="0.9"/>
<circle cx="85.8" cy="379.6" r="3.25" fill="url(#g)"/>
<path d="M68.4 398.25 H100" stroke="#00f000" stroke-width="1.5" stroke-dasharray="8.7 3.2 2.2 3.0" fill="none"/>
<path d="M69.3 416.9 H102.1" stroke="#ff0000" stroke-width="2.6" stroke-linecap="round" fill="none"/>
<path d="M68.4 435.2 H103.6" stroke="#ff8000" stroke-width="1.5" stroke-dasharray="0.9 0.9" fill="none"/>
<path d="M68.4 453.7 H103.4" stroke="#0000ff" stroke-width="1.8" stroke-dasharray="7.5 6.3" fill="none"/>
<g font-family="Liberation Sans, sans-serif" font-size="15" fill="#000" stroke="#000" stroke-width="0.18">
<text x="107" y="366.3">This work</text>
<text x="107" y="402.9">s wave (clean)</text>
<text x="107" y="421.8">s wave (dirty)</text>
<text x="107" y="440.6">p wave</text>
<text x="107" y="459.1">d wave</text>
<text x="107" y="385.1"><tspan font-family="Liberation Serif, serif" font-size="13.5">μ</tspan>SR (Ref. 27)</text>
</g>
</svg>
</body></html>
